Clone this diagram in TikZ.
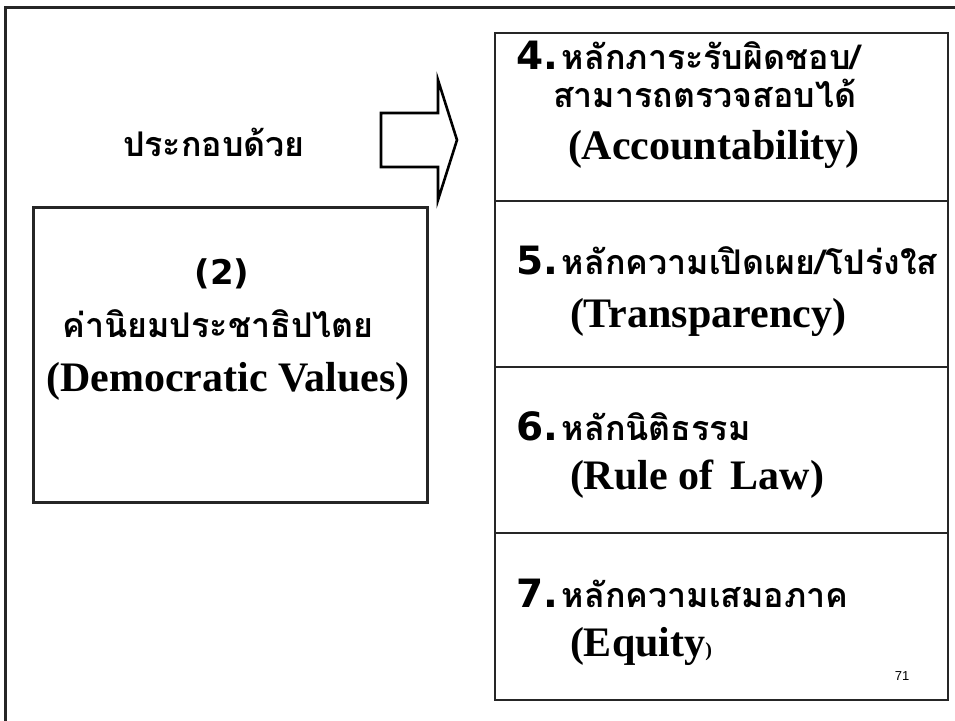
\documentclass[tikz,border=0pt]{standalone}
\usepackage{fontspec}
\setmainfont{Liberation Serif}
\newfontfamily\thaifont[Script=Thai]{Loma}
\newfontfamily\numfont{DejaVu Sans}
\newfontfamily\pagefont{Liberation Sans}
\newcommand{\numf}{\numfont\bfseries\fontsize{39}{39}\selectfont}
\newcommand{\thf}{\thaifont\bfseries\fontsize{34}{34}\selectfont}
\newcommand{\enf}{\rmfamily\bfseries\fontsize{42}{42}\selectfont}
\begin{document}
\begin{tikzpicture}[x=1pt,y=1pt,
  txt/.style={inner sep=0pt, outer sep=0pt},
  frame/.style={draw=black!85, line width=3pt},
  bigbox/.style={draw=black!85, line width=3pt},
  colbox/.style={draw=black!85, line width=1.6pt},
  arrowshape/.style={draw=black, line width=2.6pt, line join=miter}]
\useasboundingbox (0,0) rectangle (955,720);
\fill[white] (0,0) rectangle (955,720);
% outer frame (clipped at right and bottom)
\draw[frame] (5,-10) -- (5,712) -- (970,712);
% right column boxes
\coordinate (c0) at (495,687);
\coordinate (c1) at (948,519);
\coordinate (c2) at (948,353);
\coordinate (c3) at (948,187);
\coordinate (c4) at (948,20);
\draw[colbox] (c0) rectangle (c1);
\draw[colbox] (495,519) rectangle (c2);
\draw[colbox] (495,353) rectangle (c3);
\draw[colbox] (495,187) rectangle (c4);
% left box
\draw[bigbox] (33,512) rectangle (427,217);
% block arrow
\draw[arrowshape] (381,607) -- (438,607) -- (438,640) -- (457,580) -- (438,520) -- (438,553) -- (381,553) -- cycle;
% left texts
\node[txt, anchor=base] (prakob) at (214,563) {\thf ประกอบด้วย};
\node[txt, anchor=base] (two) at (222,435) {\numfont\bfseries\fontsize{34}{34}\selectfont (2)};
\node[txt, anchor=base] (kaniyom) at (218,382) {\thf ค่านิยมประชาธิปไตย};
\node[txt, anchor=base] (demo) at (228,328) {\enf (Democratic Values)};
% box 4
\node[txt, anchor=base west] (n4a) at (516,650) {{\numf 4.}\hspace{4pt}{\thf หลักภาระรับผิดชอบ/}};
\node[txt, anchor=base west] (n4b) at (553,612) {\thf สามารถตรวจสอบได้};
\node[txt, anchor=base west] (n4c) at (568,560) {\enf (Accountability)};
% box 5
\node[txt, anchor=base west] (n5a) at (516,445) {{\numf 5.}\hspace{4pt}{\thf หลักความเปิดเผย/โปร่งใส}};
\node[txt, anchor=base west] (n5b) at (570,392) {\enf (Transparency)};
% box 6
\node[txt, anchor=base west] (n6a) at (516,279) {{\numf 6.}\hspace{4pt}{\thf หลักนิติธรรม}};
\node[txt, anchor=base west] (n6b) at (570,230) {\enf (Rule of\, Law)};
% box 7
\node[txt, anchor=base west] (n7a) at (516,112) {{\numf 7.}\hspace{4pt}{\thf หลักความเสมอภาค}};
\node[txt, anchor=base west] (n7b) at (570,64) {\enf (Equity{\fontsize{20}{20}\selectfont )}};
% page number
\node[txt, anchor=base] (pg) at (902,40) {\pagefont\fontsize{13}{13}\selectfont 71};
\end{tikzpicture}
\end{document}
